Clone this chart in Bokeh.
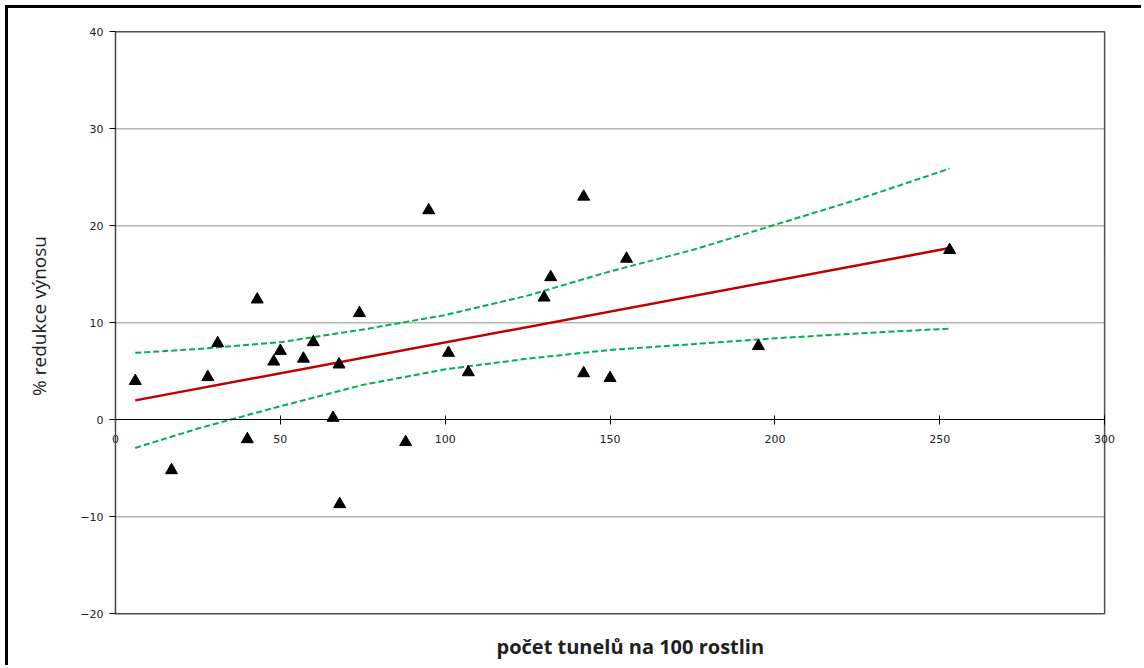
from bokeh.plotting import figure
from bokeh.models import Range1d, FixedTicker, Title, ColumnDataSource, LinearAxis
from bokeh.embed import file_html
from bokeh.resources import INLINE

# data: number of tunnels per 100 plants vs % yield reduction
tunnels = [6, 17, 28, 31, 40, 43, 48, 50, 57, 60, 66, 67.8, 68, 74, 88, 95,
           101, 107, 130, 132, 142, 142, 150, 155, 195, 253]
reduction = [4.0, -5.2, 4.4, 7.9, -2.0, 12.4, 6.0, 7.1, 6.3, 8.0, 0.2, 5.7, -8.7, 11.0, -2.3, 21.6,
             6.9, 4.9, 12.6, 14.7, 23.0, 4.8, 4.3, 16.6, 7.6, 17.5]

# regression line (endpoints)
fit_x = [6, 253]
fit_y = [2.0, 17.7]

# confidence band
band_x = [6, 25, 50, 75, 100, 125, 150, 175, 200, 225, 253]
band_upper = [6.9, 7.3, 8.0, 9.3, 10.8, 12.8, 15.3, 17.5, 20.1, 22.7, 25.9]
band_lower = [-2.9, -0.9, 1.4, 3.6, 5.2, 6.3, 7.2, 7.8, 8.4, 8.9, 9.4]

x_ticks = [0, 50, 100, 150, 200, 250, 300]
y_ticks = [-20, -10, 0, 10, 20, 30, 40]
grid_ticks = [-10, 10, 20, 30]
x_min, x_max = 0, 300
y_min, y_max = -20, 40

x_title = "počet tunelů na 100 rostlin"
y_title = "% redukce výnosu"

p = figure(width=1136, height=660, output_backend="svg", toolbar_location=None,
           x_range=Range1d(-18.8, 312.1), y_range=Range1d(-21, 42.4),
           min_border_left=45, min_border_right=0, min_border_top=0, min_border_bottom=45,
           x_axis_location=None, y_axis_location=None)
p.styles = {"margin-left": "5px", "margin-top": "5px",
            "border-left": "3px solid black", "border-top": "3px solid black"}
p.outline_line_color = None
p.grid.visible = False

# gridlines limited to the data area
p.segment(x0=[x_min] * len(grid_ticks), x1=[x_max] * len(grid_ticks), y0=grid_ticks, y1=grid_ticks,
          line_color="#b4b4b4", line_width=1.5)
# plot-area border
p.quad(left=[x_min], right=[x_max], bottom=[y_min], top=[y_max], fill_color=None,
       line_color="#505050", line_width=1.5)

# y axis at x=0
yax = LinearAxis(fixed_location=0, bounds=(y_min, y_max), ticker=FixedTicker(ticks=y_ticks))
yax.axis_line_color = "#404040"
yax.major_tick_out = 6
yax.major_tick_in = 0
yax.minor_tick_line_color = None
yax.major_label_standoff = 6
yax.major_label_text_font = "DejaVu Sans"
yax.major_label_text_font_size = "11px"
yax.major_label_text_color = "#202020"
p.add_layout(yax, "left")

# y title carrier axis
ytit = LinearAxis(ticker=FixedTicker(ticks=[]), axis_line_color=None, major_tick_out=0, major_tick_in=0,
                  minor_tick_line_color=None, major_label_text_font_size="0px", major_label_standoff=0,
                  bounds=(-20.8, y_max))
ytit.axis_label = y_title
ytit.axis_label_text_font = "Open Sans"
ytit.axis_label_text_font_style = "normal"
ytit.axis_label_text_font_size = "19px"
ytit.axis_label_text_color = "#202020"
ytit.axis_label_standoff = 2
p.add_layout(ytit, "left")

# x axis crossing at y=0
xax = LinearAxis(fixed_location=0, bounds=(x_min, x_max), ticker=FixedTicker(ticks=x_ticks))
xax.axis_line_color = "black"
xax.major_tick_out = 5
xax.major_tick_in = 4
xax.minor_tick_line_color = None
xax.major_label_standoff = 10
xax.major_label_text_font = "DejaVu Sans"
xax.major_label_text_font_size = "11px"
xax.major_label_text_color = "#202020"
p.add_layout(xax, "below")

src = ColumnDataSource(dict(x=tunnels, y=reduction))

p.line(band_x, band_upper, line_color="#00b050", line_width=2, line_dash="6 3")
p.line(band_x, band_lower, line_color="#00b050", line_width=2, line_dash="6 3")
p.line(fit_x, fit_y, line_color="#c00000", line_width=2.5)
p.scatter("x", "y", source=src, marker="triangle", size=12, fill_color="black", line_color="black")

p.add_layout(Title(text=x_title, align="left", offset=443, standoff=15,
                   text_font="Open Sans", text_font_style="bold", text_font_size="20px",
                   text_color="#202020"), "below")

open("out.html", "w").write(file_html(p, INLINE))
